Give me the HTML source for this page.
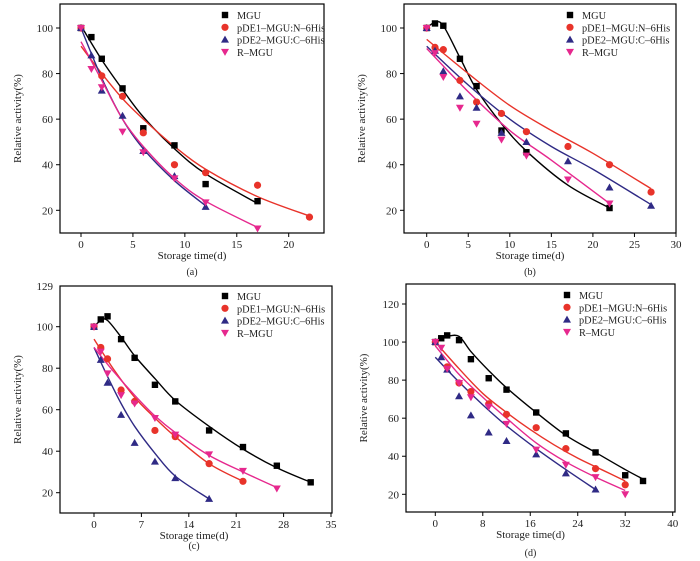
<!DOCTYPE html>
<html><head><meta charset="utf-8"><style>
html,body{margin:0;padding:0;background:#fff;}
svg{display:block;font-family:"Liberation Serif",serif;}
</style></head><body>
<svg id="fig" width="700" height="561" viewBox="0 0 700 561" xmlns="http://www.w3.org/2000/svg"></svg>
<script>
// ---- data (x = days, y = relative activity %) ----
const seriesNames = ["MGU","pDE1\u2013MGU:N\u20136His","pDE2\u2013MGU:C\u20136His","R\u2013MGU"];
// Panel a
const aMGU_x=[0,1,2,4,6,9,12,17], aMGU_y=[100,96,86.5,73.5,56,48.5,31.5,24];
const aDE1_x=[0,2,4,6,9,12,17,22], aDE1_y=[100,79,70,54,40,36.5,31,17];
const aDE2_x=[0,1,2,4,6,9,12], aDE2_y=[100,88,72.5,61.5,46,35,21.5];
const aR_x=[0,1,2,4,6,9,12,17], aR_y=[100,82,74,54.5,45.5,34,23.5,12];
const aFitMGU_x=[0,2,4,6,9,12,17], aFitMGU_y=[101,86,73,61,47,36,23];
const aFitDE1_x=[0,2,4,6,9,12,17,22], aFitDE1_y=[92,80,69,60,48,38,26,17.5];
const aFitDE2_x=[0,2,4,6,9,12], aFitDE2_y=[100,78,60,47,33,22];
const aFitR_x=[0,2,4,6,9,12,17], aFitR_y=[94,77,60,48,34,24,12.5];
// Panel b
const bMGU_x=[0,1,2,4,6,9,12,22], bMGU_y=[100,102,101,86.5,74.5,55,45.5,21];
const bDE1_x=[0,1,2,4,6,9,12,17,22,27], bDE1_y=[100,91.5,90.5,77,67.5,62.5,54.5,48,40,28];
const bDE2_x=[0,1,2,4,6,9,12,17,22,27], bDE2_y=[100,90,81,70,65,54,50,41.5,30,22];
const bR_x=[0,1,2,4,6,9,12,17,22], bR_y=[100,89,78.5,65,58,51,44,33.5,23];
const bFitMGU_x=[0,1,2,4,6,9,12,17,22], bFitMGU_y=[100,102.5,101,87,73,58,46,31,21];
const bFitDE1_x=[0,5,10,15,20,27], bFitDE1_y=[95,80,66,55,45,29.5];
const bFitDE2_x=[0,5,10,15,20,27], bFitDE2_y=[92,75,60,48,38,22.5];
const bFitR_x=[0,5,10,15,22], bFitR_y=[91,72,55,42,23];
// Panel c
const cMGU_x=[0,1,2,4,6,9,12,17,22,27,32], cMGU_y=[100,103.5,105,94,85,72,64,50,42,33,25];
const cDE1_x=[0,1,2,4,6,9,12,17,22], cDE1_y=[100,90,84.5,69.5,64,50,47,34,25.5];
const cDE2_x=[0,1,2,4,6,9,12,17], cDE2_y=[100,84,73,57.5,44,35,27,17];
const cR_x=[0,1,2,4,6,9,12,17,22,27], cR_y=[100,88,77.5,67,63,56,48,38.5,30.5,22];
const cFitMGU_x=[0,1,2,4,6,9,12,17,22,27,32], cFitMGU_y=[100,103,103,95,86,75,64.5,52,41,32,25];
const cFitDE1_x=[0,3,6,9,12,17,22], cFitDE1_y=[94,79,66,56,47,34,25.5];
const cFitDE2_x=[0,2,4,6,9,12,17], cFitDE2_y=[90,76,63,52,39,28,17];
const cFitR_x=[0,3,6,9,12,17,22,27], cFitR_y=[90,78,67,57,49,38,30,22.5];
// Panel d
const dMGU_x=[0,1,2,4,6,9,12,17,22,27,32,35], dMGU_y=[100,102,103.5,101,91,81,75,63,52,42,30,27];
const dDE1_x=[0,2,4,6,9,12,17,22,27,32], dDE1_y=[100,87,78.5,74,67.5,62,55,44,33.5,25];
const dDE2_x=[0,1,2,4,6,9,12,17,22,27], dDE2_y=[100,92,85.5,71.5,61.5,52.5,48,41,31,22.5];
const dR_x=[0,1,2,4,6,9,12,17,22,27,32], dR_y=[100,97,86,78.5,71,66,57,43.5,35.5,29,20];
const dFitMGU_x=[0,1,2,4,6,9,12,17,22,27,32,35], dFitMGU_y=[100,102.5,103,103,95,85,76,63,51,42,33,28];
const dFitDE1_x=[0,4,8,12,16,20,24,28,32], dFitDE1_y=[100,86,73,63,54,46,39,33,27];
const dFitDE2_x=[0,4,8,12,17,22,27], dFitDE2_y=[92,79,67,56,44,33,22.5];
const dFitR_x=[0,4,8,12,17,22,27,32], dFitR_y=[98,83,71,60,47,37,29,22];
// tick labels
const aXTicks=[0,5,10,15,20], aYTicks=[20,40,60,80,100];
const bXTicks=[0,5,10,15,20,25,30], bYTicks=[20,40,60,80,100];
const cXTicks=[0,7,14,21,28,35], cYTicks=[20,40,60,80,100];
const dXTicks=[0,8,16,24,32,40], dYTicks=[20,40,60,80,100,120];

const colors=["#000000","#e8332a","#2f2a85","#e6288e"];
const NS="http://www.w3.org/2000/svg";
const svg=document.getElementById('fig');
function mk(tag,attrs,parent){const e=document.createElementNS(NS,tag);for(const k in attrs)e.setAttribute(k,attrs[k]);(parent||svg).appendChild(e);return e;}

function smoothPath(pts){
  let d="M"+pts[0][0].toFixed(2)+","+pts[0][1].toFixed(2);
  for(let i=0;i<pts.length-1;i++){
    const p0=pts[i-1]||pts[i],p1=pts[i],p2=pts[i+1],p3=pts[i+2]||p2;
    const c1=[p1[0]+(p2[0]-p0[0])/6,p1[1]+(p2[1]-p0[1])/6];
    const c2=[p2[0]-(p3[0]-p1[0])/6,p2[1]-(p3[1]-p1[1])/6];
    d+="C"+c1[0].toFixed(2)+","+c1[1].toFixed(2)+" "+c2[0].toFixed(2)+","+c2[1].toFixed(2)+" "+p2[0].toFixed(2)+","+p2[1].toFixed(2);
  }
  return d;
}
function marker(g,type,cx,cy,col){
  let e;
  if(type===0) e=mk('rect',{x:cx-3.2,y:cy-3.2,width:6.4,height:6.4,fill:col},g);
  else if(type===1) e=mk('circle',{cx:cx,cy:cy,r:3.6,fill:col},g);
  else if(type===2) e=mk('polygon',{points:`${cx},${cy-4} ${cx-4},${cy+3} ${cx+4},${cy+3}`,fill:col},g);
  else e=mk('polygon',{points:`${cx},${cy+4} ${cx-4},${cy-3} ${cx+4},${cy-3}`,fill:col},g);
  return e;
}

function panel(cfg){
  const g=mk('g',{});
  
  
  const X=v=>cfg.x0+(v-cfg.xv0)*(cfg.x1-cfg.x0)/(cfg.xv1-cfg.xv0);
  const Y=v=>cfg.y0+(v-cfg.yv0)*(cfg.y1-cfg.y0)/(cfg.yv1-cfg.yv0);
  const fr=mk('rect',{x:cfg.L,y:cfg.T,width:cfg.R-cfg.L,height:cfg.B-cfg.T,fill:'none',stroke:'#000','stroke-width':1.2},g);
  
  
  cfg.xt.forEach(t=>{
    const x=X(t);
    mk('line',{x1:x,y1:cfg.B,x2:x,y2:cfg.B+4,stroke:'#000','stroke-width':1},g);
    const tx=mk('text',{x:x,y:cfg.B+15,'font-size':11,'text-anchor':'middle',fill:'#222'},g);
    tx.textContent=t;
    
    
  });
  cfg.yt.forEach(t=>{
    const y=Y(t);
    mk('line',{x1:cfg.L-4,y1:y,x2:cfg.L,y2:y,stroke:'#000','stroke-width':1},g);
    const tx=mk('text',{x:cfg.L-7,y:y+4,'font-size':11,'text-anchor':'end',fill:'#222'},g);
    tx.textContent=t;
    
    
  });
  if(cfg.extraTop){
    const tx=mk('text',{x:cfg.L-7,y:cfg.T+4,'font-size':11,'text-anchor':'end',fill:'#222'},g);
    tx.textContent=cfg.extraTop;
    
    
  }
  const xl=mk('text',{x:(cfg.L+cfg.R)/2+ (cfg.xlOff||0),y:cfg.B+26,'font-size':11,'text-anchor':'middle',fill:'#222'},g);
  xl.textContent='Storage time(d)';
  
  
  const cy=(cfg.T+cfg.B)/2, cxp=cfg.L-39;
  const yl=mk('text',{x:cxp,y:cy,'font-size':11,'text-anchor':'middle',fill:'#222',transform:`rotate(-90 ${cxp} ${cy})`},g);
  yl.textContent='Relative activity(%)';
  
  
  const cap=mk('text',{x:(cfg.L+cfg.R)/2+(cfg.xlOff||0),y:cfg.capY,'font-size':10,'text-anchor':'middle',fill:'#222'},g);
  cap.textContent='('+cfg.id+')';
  
  
  cfg.fits.forEach((f,i)=>{
    const p=mk('path',{d:smoothPath(f[0].map((v,j)=>[X(v),Y(f[1][j])])),fill:'none',stroke:colors[i],'stroke-width':1.4},g);
    
    
  });
  cfg.pts.forEach((s,i)=>{
    s[0].forEach((v,j)=>{
      const m=marker(g,i,X(v),Y(s[1][j]),colors[i]);
      
      
    });
  });
  seriesNames.forEach((n,i)=>{
    const ly=cfg.T+cfg.legY+i*12.3;
    const m=marker(g,i,cfg.legX,ly,colors[i]);
    
    
    const t=mk('text',{x:cfg.legX+12,y:ly+4,'font-size':10.3,fill:'#222'},g);
    t.textContent=n;
    
    
  });
}

panel({id:'a',L:60,R:324,T:4,B:233,x0:81,x1:288.7,xv0:0,xv1:20,y0:210.3,y1:28,yv0:20,yv1:100,
  xt:aXTicks,yt:aYTicks,capY:275,legX:225,legY:11,
  pts:[[aMGU_x,aMGU_y],[aDE1_x,aDE1_y],[aDE2_x,aDE2_y],[aR_x,aR_y]],
  fits:[[aFitMGU_x,aFitMGU_y],[aFitDE1_x,aFitDE1_y],[aFitDE2_x,aFitDE2_y],[aFitR_x,aFitR_y]]});
panel({id:'b',L:404,R:676,T:4,B:233,x0:426.7,x1:676,xv0:0,xv1:30,y0:210.3,y1:28,yv0:20,yv1:100,
  xt:bXTicks,yt:bYTicks,capY:275,legX:570,legY:11,xlOff:-10,
  pts:[[bMGU_x,bMGU_y],[bDE1_x,bDE1_y],[bDE2_x,bDE2_y],[bR_x,bR_y]],
  fits:[[bFitMGU_x,bFitMGU_y],[bFitDE1_x,bFitDE1_y],[bFitDE2_x,bFitDE2_y],[bFitR_x,bFitR_y]]});
panel({id:'c',L:60,R:332,T:286,B:513,x0:94,x1:331,xv0:0,xv1:35,y0:492.7,y1:326.7,yv0:20,yv1:100,
  xt:cXTicks,yt:cYTicks,extraTop:'129',capY:549,legX:225,legY:10,xlOff:-2,
  pts:[[cMGU_x,cMGU_y],[cDE1_x,cDE1_y],[cDE2_x,cDE2_y],[cR_x,cR_y]],
  fits:[[cFitMGU_x,cFitMGU_y],[cFitDE1_x,cFitDE1_y],[cFitDE2_x,cFitDE2_y],[cFitR_x,cFitR_y]]});
panel({id:'d',L:406,R:675,T:284,B:512,x0:435.3,x1:672.7,xv0:0,xv1:40,y0:494.3,y1:304,yv0:20,yv1:120,
  xt:dXTicks,yt:dYTicks,capY:556,legX:567,legY:11,xlOff:-10,
  pts:[[dMGU_x,dMGU_y],[dDE1_x,dDE1_y],[dDE2_x,dDE2_y],[dR_x,dR_y]],
  fits:[[dFitMGU_x,dFitMGU_y],[dFitDE1_x,dFitDE1_y],[dFitDE2_x,dFitDE2_y],[dFitR_x,dFitR_y]]});
</script>
</body></html>
